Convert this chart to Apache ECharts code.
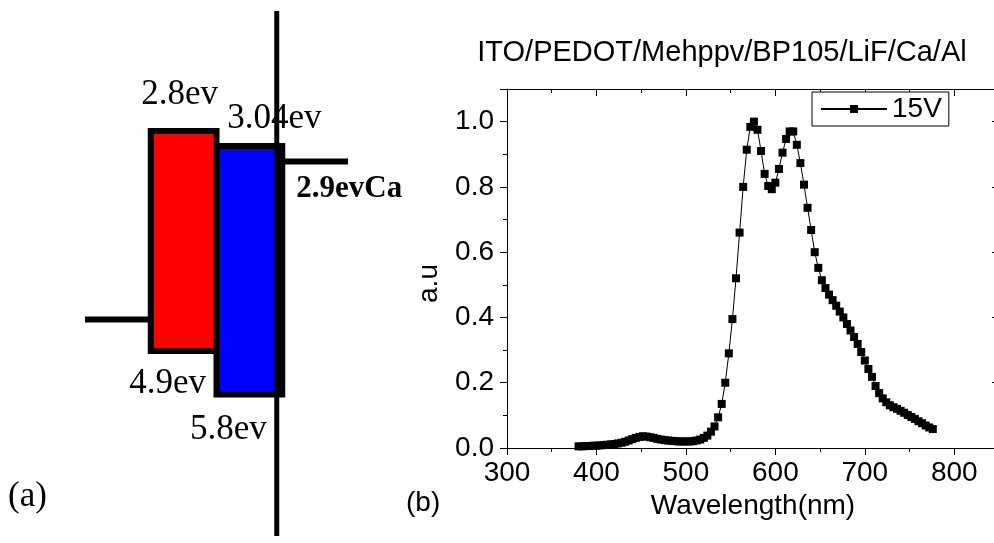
<!DOCTYPE html>
<html><head><meta charset="utf-8">
<script src="https://cdn.jsdelivr.net/npm/echarts@6/dist/echarts.min.js"></script>
<style>html,body{margin:0;padding:0;background:#fff}#c{width:994px;height:543px}</style>
</head><body><div id="c"></div>
<script>
// ---------- Panel (b): EL spectrum ----------
const plotTitle = 'ITO/PEDOT/Mehppv/BP105/LiF/Ca/Al';
const seriesName = '15V';
const wavelength = [380,384,388,392,396,400,404,408,412,416,420,424,428,432,436,440,444,448,452,456,
  460,464,468,472,476,480,484,488,492,496,500,504,508,512,516,520,524,528,532,536,
  540,544,548,552,556,560,564,568,572,576,580,584,588,592,596,600,604,608,612,616,
  620,624,628,632,636,640,644,648,652,656,660,664,668,672,676,680,684,688,692,696,
  700,704,708,712,716,720,724,728,732,736,740,744,748,752,756,760,764,768,772,776];
const intensity = [0.005,0.005,0.006,0.006,0.007,0.007,0.008,0.009,0.010,0.011,0.012,0.014,0.016,0.019,0.023,0.027,0.031,0.034,0.036,0.035,
  0.033,0.031,0.028,0.026,0.024,0.023,0.022,0.021,0.020,0.020,0.020,0.020,0.021,0.023,0.026,0.031,0.038,0.050,0.066,0.094,
  0.135,0.200,0.290,0.395,0.520,0.660,0.800,0.914,0.984,1.000,0.975,0.910,0.840,0.803,0.793,0.813,0.855,0.905,0.947,0.970,
  0.970,0.929,0.873,0.807,0.736,0.668,0.600,0.552,0.514,0.490,0.470,0.453,0.436,0.418,0.400,0.380,0.360,0.340,0.319,0.294,
  0.268,0.242,0.218,0.190,0.168,0.152,0.140,0.131,0.125,0.120,0.114,0.108,0.101,0.095,0.089,0.082,0.076,0.069,0.063,0.058];
const xAxisName = 'Wavelength(nm)';
const yAxisName = 'a.u';

// ---------- Panel (a): energy level diagram (schematic, not to scale) ----------
const layers = ['ITO/PEDOT', 'MEH-PPV', 'BP105', 'Ca'];
const boxLayers = ['MEH-PPV', 'BP105'];
const boxLumo = [2.8, 3.04];   // eV
const boxHomo = [4.9, 5.8];    // eV
const electrodeLayers = ['ITO/PEDOT', 'Ca'];
const electrodeLevels = [4.6, 2.9]; // eV (ITO value)
const electrodeTags = ['', 'Ca'];
const interlayerAfter = 'BP105'; // LiF separator drawn at the right side of this layer

// ---------- layout / style config ----------
const SANS = '"Liberation Sans", Arial, sans-serif';
const SERIF = '"Liberation Serif", "Times New Roman", serif';
// each part of the schematic has its own (hidden) energy scale, as in the drawing
const schematicScales = [
  {min: 1.6545, max: 6.666},   // MEH-PPV box + ITO line
  {min: 1.5407, max: 7.3714},  // BP105 box
  {min: 1.2285, max: 7.0592}   // Ca line
];
const boxScale = [0, 1];
const electrodeScale = [0, 2];
const boxFill = ['#ff0000', '#0000ff'];
const lumoDx = [-4, 25], lumoDy = [-19, -10];
const homoDx = [-16, -21], homoDy = [15, 18];

function makeBoxRenderer(i) {
  return function (params, api) {
    const xi = api.value(0);
    const pTop = api.coord([xi, api.value(1)]);
    const pBot = api.coord([xi, api.value(2)]);
    const bw = api.size([1, 0])[0];
    const x0 = pTop[0] - bw / 2;
    const cs = params.coordSys;
    const children = [
      {type: 'rect', shape: {x: x0, y: pTop[1], width: bw, height: pBot[1] - pTop[1]},
       style: {fill: boxFill[i], stroke: '#000', lineWidth: 6}},
      {type: 'text', x: pTop[0] + lumoDx[i], y: pTop[1] + lumoDy[i],
       style: {text: api.value(1) + 'ev', font: '35px ' + SERIF, fill: '#000',
               align: 'center', verticalAlign: 'bottom', textAlign: 'center', textVerticalAlign: 'bottom'}},
      {type: 'text', x: pBot[0] + homoDx[i], y: pBot[1] + homoDy[i],
       style: {text: api.value(2) + 'ev', font: '35px ' + SERIF, fill: '#000',
               align: 'center', verticalAlign: 'top', textAlign: 'center', textVerticalAlign: 'top'}}
    ];
    if (boxLayers[i] === interlayerAfter) {
      const lx = x0 + bw - 5.5;
      children.push({type: 'line', shape: {x1: lx, y1: cs.y, x2: lx, y2: cs.y + cs.height},
                     style: {stroke: '#000', lineWidth: 5}});
    }
    return {type: 'group', children};
  };
}

function makeElectrodeRenderer(i) {
  return function (params, api) {
    const p = api.coord([api.value(0), api.value(1)]);
    const bw = api.size([1, 0])[0];
    const children = [
      {type: 'line', shape: {x1: p[0] - bw / 2, y1: p[1], x2: p[0] + bw / 2, y2: p[1]},
       style: {stroke: '#000', lineWidth: 6}}
    ];
    if (electrodeTags[i]) {
      children.push({type: 'text', x: p[0] - bw / 2 + 14, y: p[1] + 11.5,
        style: {text: api.value(1) + 'ev' + electrodeTags[i], font: 'bold 31px ' + SERIF, fill: '#000',
                align: 'left', verticalAlign: 'top', textAlign: 'left', textVerticalAlign: 'top'}});
    }
    return {type: 'group', children};
  };
}

const axBlack = {color: '#000', width: 1};
const SPEC_Y = schematicScales.length; // index of spectrum left y axis

const yAxes = schematicScales.map(s => ({gridIndex: 0, type: 'value', inverse: true, min: s.min, max: s.max, show: false}));
yAxes.push(
  {gridIndex: 1, type: 'value', position: 'left', min: 0, max: 1.1, interval: 0.2,
   axisLine: {show: true, onZero: false, lineStyle: axBlack},
   axisTick: {show: true, inside: false, length: 7, lineStyle: axBlack},
   minorTick: {show: true, splitNumber: 2, length: 4, lineStyle: axBlack},
   splitLine: {show: false}, minorSplitLine: {show: false},
   axisLabel: {color: '#000', fontSize: 28, fontFamily: SANS, margin: 13,
               formatter: v => (v <= 1.0001 ? v.toFixed(1) : '')},
   name: yAxisName, nameLocation: 'middle', nameGap: 64, nameRotate: 90,
   nameTextStyle: {color: '#000', fontSize: 28, fontFamily: SANS, padding: [0, 30, 0, 0]}},
  {gridIndex: 1, type: 'value', position: 'right', min: 0, max: 1.1, interval: 0.2,
   axisLine: {show: true, onZero: false, lineStyle: axBlack},
   axisTick: {show: true, inside: true, length: 7, lineStyle: axBlack},
   splitLine: {show: false}, axisLabel: {show: false}}
);

const series = [];
electrodeLayers.forEach((l, i) => series.push({
  type: 'custom', xAxisIndex: 0, yAxisIndex: electrodeScale[i], silent: true, z: 1,
  renderItem: makeElectrodeRenderer(i), data: [[l, electrodeLevels[i]]]
}));
boxLayers.forEach((l, i) => series.push({
  type: 'custom', xAxisIndex: 0, yAxisIndex: boxScale[i], silent: true, z: 2 + i,
  renderItem: makeBoxRenderer(i), data: [[l, boxLumo[i], boxHomo[i]]]
}));
series.push({
  type: 'line', name: seriesName, xAxisIndex: 1, yAxisIndex: SPEC_Y,
  data: wavelength.map((w, i) => [w, intensity[i]]),
  symbol: 'rect', symbolSize: 8, showSymbol: true, showAllSymbol: true,
  lineStyle: {color: '#000', width: 1}, itemStyle: {color: '#000'}
});

const chart = echarts.init(document.getElementById('c'), null, {renderer: 'canvas', width: 994, height: 543});
chart.setOption({
  animation: false,
  backgroundColor: '#fff',
  textStyle: {fontFamily: SANS, color: '#000'},
  grid: [
    {left: 85, top: 11, width: 263, height: 525, outerBoundsMode: 'none'},
    {left: 507, top: 89, right: -5, bottom: 95, outerBoundsMode: 'none'}
  ],
  xAxis: [
    {gridIndex: 0, type: 'category', data: layers, boundaryGap: true, show: false},
    {gridIndex: 1, type: 'value', position: 'bottom', min: 300, max: 850, interval: 100,
     axisLine: {show: true, onZero: false, lineStyle: axBlack},
     axisTick: {show: true, inside: false, length: 7, lineStyle: axBlack},
     minorTick: {show: true, splitNumber: 2, length: 4, lineStyle: axBlack},
     splitLine: {show: false}, minorSplitLine: {show: false},
     axisLabel: {color: '#000', fontSize: 28, fontFamily: SANS, margin: 11,
                 formatter: v => (v % 100 === 0 ? String(v) : '')},
     name: xAxisName, nameLocation: 'middle', nameGap: 38,
     nameTextStyle: {color: '#000', fontSize: 28, fontFamily: SANS}},
    {gridIndex: 1, type: 'value', position: 'top', min: 300, max: 850, interval: 100,
     axisLine: {show: true, onZero: false, lineStyle: axBlack},
     axisTick: {show: true, inside: true, length: 7, lineStyle: axBlack},
     minorTick: {show: true, splitNumber: 2, length: 4, lineStyle: axBlack},
     splitLine: {show: false}, axisLabel: {show: false}}
  ],
  yAxis: yAxes,
  legend: {
    data: [seriesName], left: 812, top: 92, orient: 'horizontal', selectedMode: false,
    borderColor: '#000', borderWidth: 1, backgroundColor: '#fff', padding: [3, 7, 3, 8],
    itemWidth: 66, itemHeight: 10, itemGap: 0,
    textStyle: {color: '#000', fontSize: 28, fontFamily: SANS}
  },
  graphic: [
    {type: 'text', x: 722, y: 53, style: {text: plotTitle, font: '29px ' + SANS, fill: '#000',
      align: 'center', verticalAlign: 'middle', textAlign: 'center', textVerticalAlign: 'middle'}},
    {type: 'text', x: 8, y: 497, style: {text: '(a)', font: '35px ' + SERIF, fill: '#000',
      align: 'left', verticalAlign: 'middle', textAlign: 'left', textVerticalAlign: 'middle'}},
    {type: 'text', x: 406, y: 503, style: {text: '(b)', font: '28px ' + SANS, fill: '#000',
      align: 'left', verticalAlign: 'middle', textAlign: 'left', textVerticalAlign: 'middle'}}
  ],
  series: series
});
</script>
</body></html>
